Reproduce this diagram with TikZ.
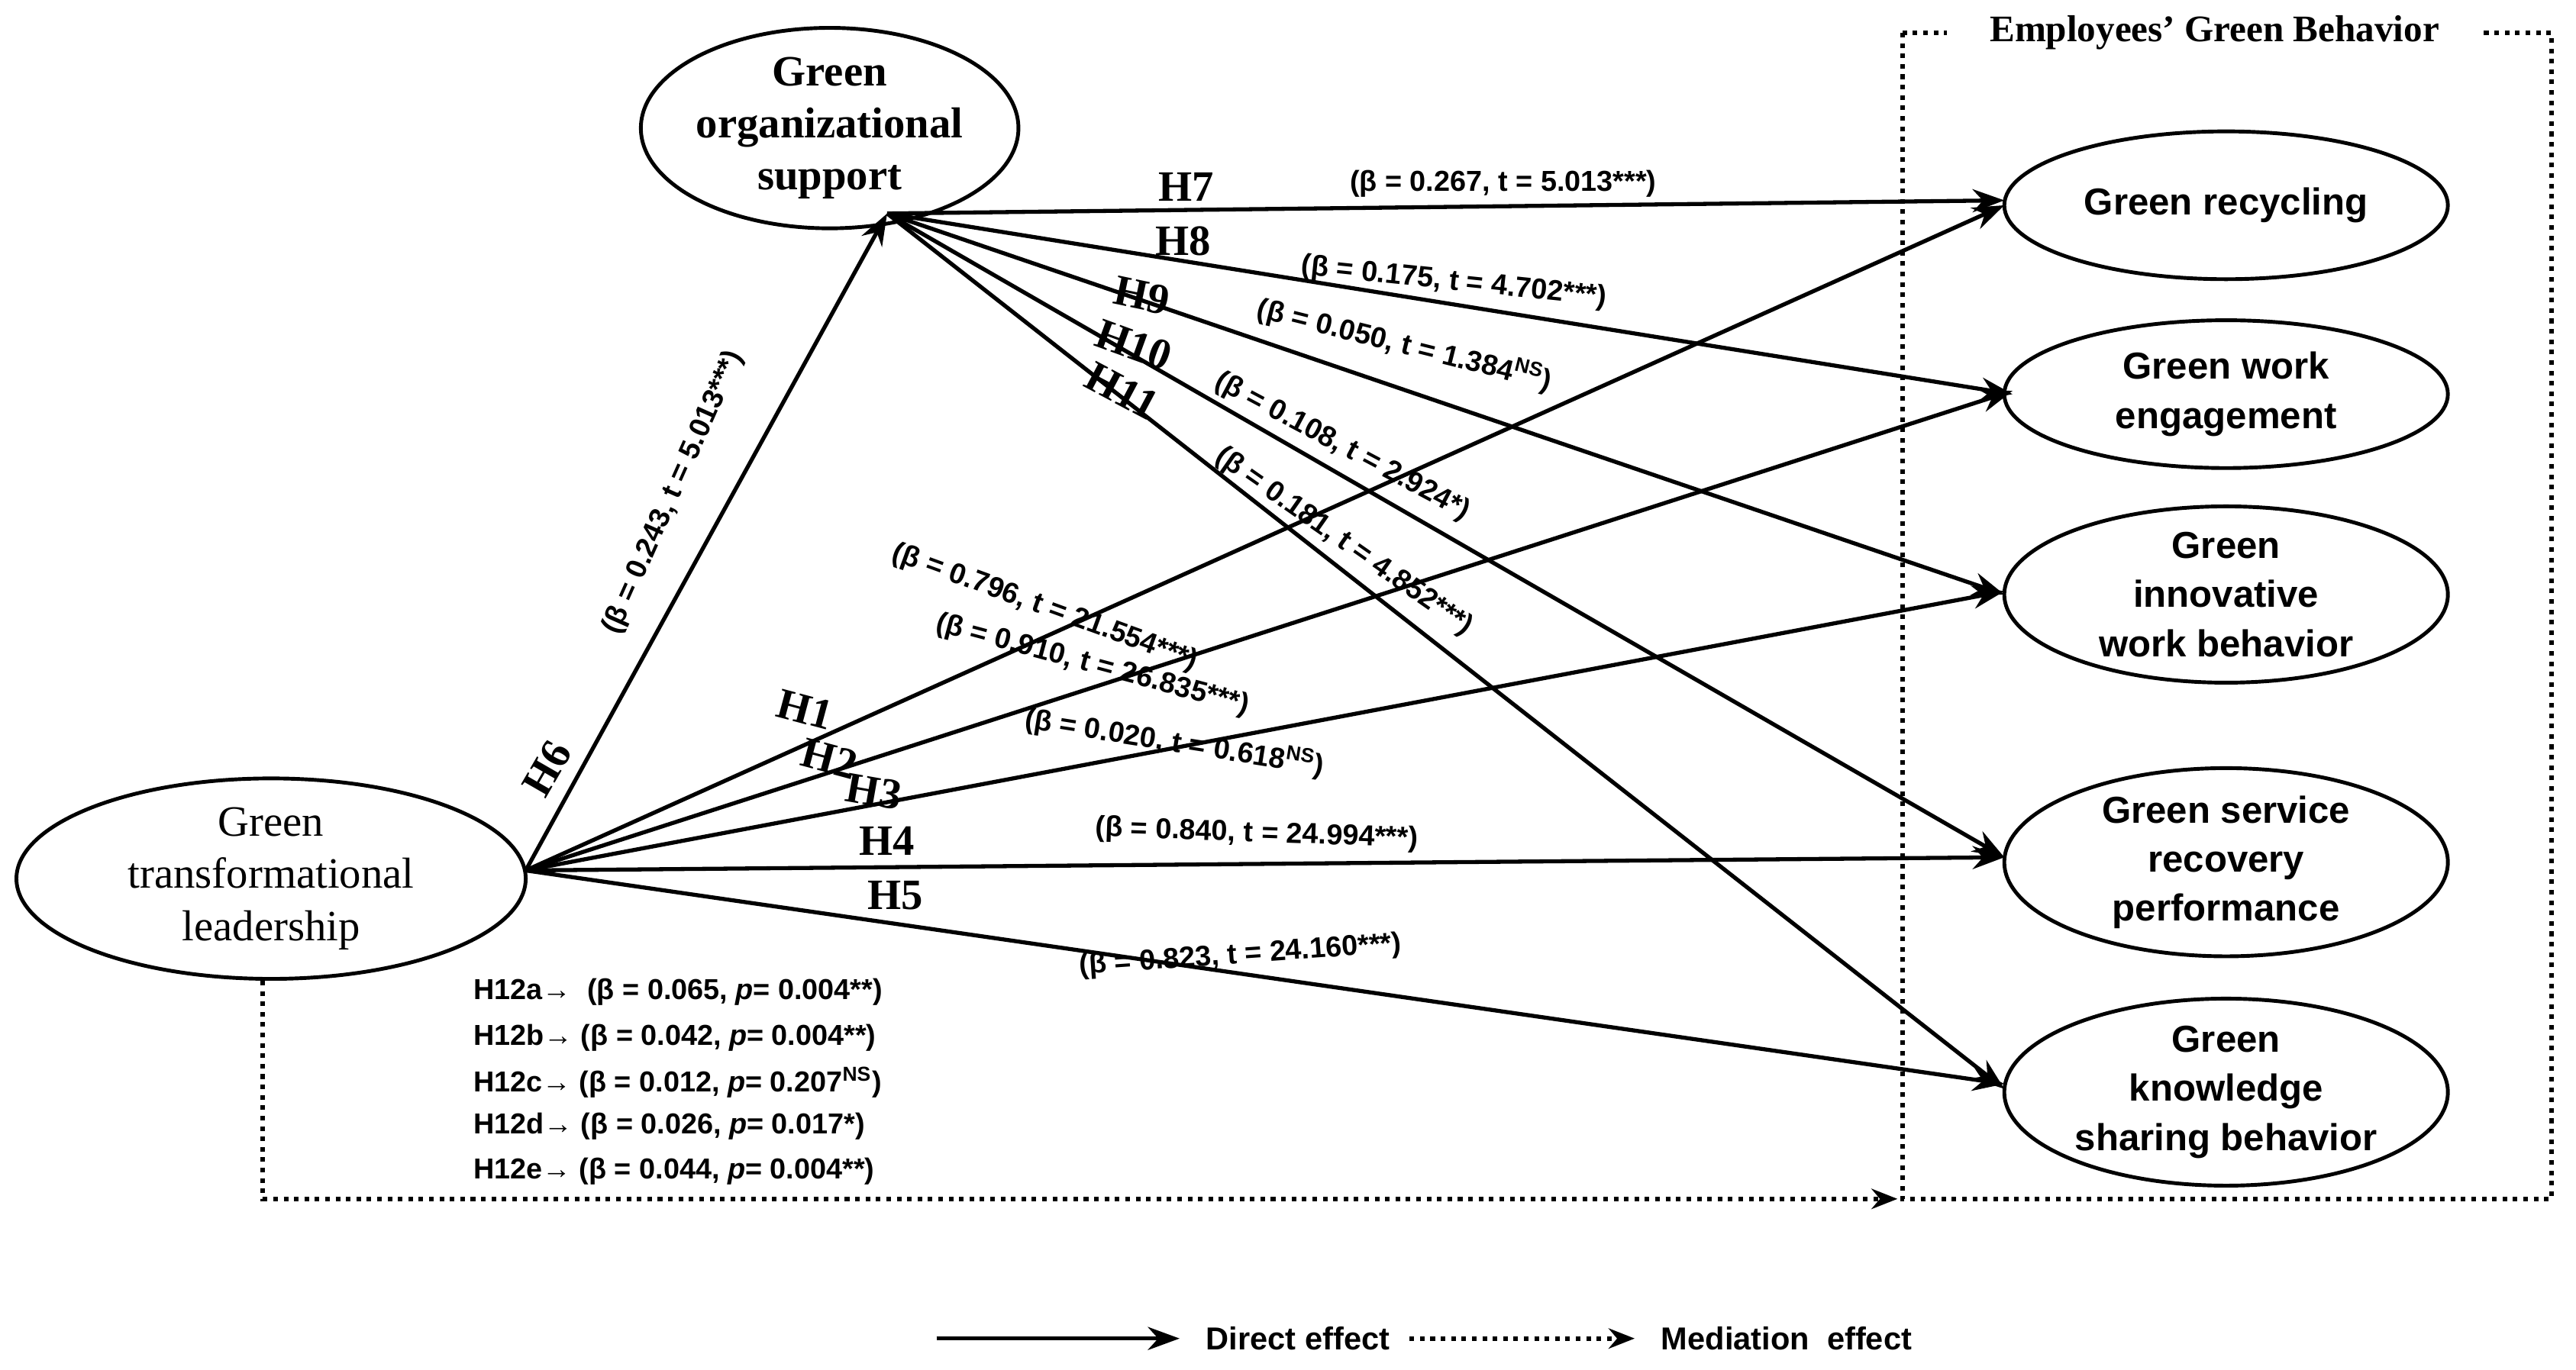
\documentclass[tikz,border=0pt]{standalone}
\usepackage{fontspec}
\setmainfont{Liberation Serif}
\newfontfamily\sa{Liberation Sans}
\usetikzlibrary{arrows.meta,shapes.geometric}
\begin{document}
\begin{tikzpicture}[x=0.02cm,y=-0.02cm,
 el/.style={draw,ellipse,line width=1.3pt,minimum width=270*0.02cm,minimum height=90*0.02cm,align=center,inner sep=0pt},
 rt/.style={el,font=\sa\bfseries\fontsize{13}{17}\selectfont},
 ar/.style={line width=1.4pt,-{Stealth[length=11pt,width=8pt]}},
 hl/.style={font=\bfseries\fontsize{15}{17}\selectfont},
 bl/.style={font=\sa\bfseries\fontsize{10}{12}\selectfont},
 dt/.style={line width=1.6pt,dotted}]
\useasboundingbox (0,0) rectangle (1568,834);
\node[el,minimum width=310*0.02cm,minimum height=110*0.02cm,font=\fontsize{15}{18}\selectfont] (gtl) at (165,535) {Green\\transformational\\leadership};
\node[el,minimum width=220*0.02cm,minimum height=120*0.02cm,font=\bfseries\fontsize{15}{18}\selectfont] (gos) at (505,78) {Green\\organizational\\support};
\node[rt] (r1) at (1355,125) {Green recycling};
\node[rt] (r2) at (1355,240) {Green work\\engagement};
\node[rt,minimum height=105*0.02cm] (r3) at (1355,362) {Green\\innovative\\work behavior};
\node[rt,minimum height=100*0.02cm] (r4) at (1355,525) {Green service\\recovery\\performance};
\node[rt,minimum height=100*0.02cm] (r5) at (1355,665) {Green\\knowledge\\sharing behavior};
\coordinate (s) at (320,530);
\coordinate (g) at (540,130);
\draw[ar] (s) -- (g);
\draw[ar] (s) -- (1220,125);
\draw[ar] (s) -- (1225,238);
\draw[ar] (s) -- (1220,360);
\draw[ar] (s) -- (1220,522);
\draw[ar] (s) -- (1220,660);
\draw[ar] (g) -- (1220,122);
\draw[ar] (g) -- (1225,240);
\draw[ar] (g) -- (1220,362);
\draw[ar] (g) -- (1220,522);
\draw[ar] (g) -- (1220,663);
% box
\draw[dt] (1158,20) -- (1158,730) -- (1553,730) -- (1553,20) -- (1510,20);
\draw[dt] (1158,20) -- (1185,20);
\node[font=\bfseries\fontsize{13}{15}\selectfont] (ttl) at (1348,20) {Employees' Green Behavior};
\coordinate (m1) at (160,730);
\coordinate (m2) at (1155,730);
\draw[dt,-{Stealth[length=9pt,width=7pt]}] (gtl.south -| m1) -- (m1) -- (m2);
% labels
\node[hl,rotate=60] (h6) at (333,468) {H6};
\node[bl,rotate=66] (l6) at (410,300) {(β = 0.243, t = 5.013***)};
\node[hl] (h7) at (722,114) {H7};
\node[bl] (l7) at (915,112) {(β = 0.267, t = 5.013***)};
\node[hl] (h8) at (720,147) {H8};
\node[bl,rotate=-6] (l8) at (885,172) {(β = 0.175, t = 4.702***)};
\node[hl,rotate=-12] (h9) at (695,180) {H9};
\node[bl,rotate=-14] (l9) at (855,210) {(β = 0.050, t = 1.384\textsuperscript{NS})};
\node[hl,rotate=-20] (h10) at (690,210) {H10};
\node[bl,rotate=-28] (l10) at (817,272) {(β = 0.108, t = 2.924*)};
\node[hl,rotate=-28] (h11) at (683,238) {H11};
\node[bl,rotate=-35] (l11) at (818,330) {(β = 0.181, t = 4.852***)};
\node[hl,rotate=-15] (h1) at (490,432) {H1};
\node[bl,rotate=-20] (l1) at (636,370) {(β = 0.796, t = 21.554***)};
\node[hl,rotate=-15] (h2) at (505,462) {H2};
\node[bl,rotate=-15] (l2) at (665,405) {(β = 0.910, t = 26.835***)};
\node[hl,rotate=-10] (h3) at (532,482) {H3};
\node[bl,rotate=-9] (l3) at (715,452) {(β = 0.020, t = 0.618\textsuperscript{NS})};
\node[hl] (h4) at (540,512) {H4};
\node[bl,rotate=-2] (l4) at (765,508) {(β = 0.840, t = 24.994***)};
\node[hl] (h5) at (545,545) {H5};
\node[bl,rotate=4] (l5) at (755,582) {(β = 0.823, t = 24.160***)};
\node[bl,anchor=west] (a) at (282,604) {H12a→ \ (β = 0.065, \textit{p}= 0.004**)};
\node[bl,anchor=west] (b) at (282,632) {H12b→ (β = 0.042, \textit{p}= 0.004**)};
\node[bl,anchor=west] (c) at (282,659) {H12c→ (β = 0.012, \textit{p}= 0.207\textsuperscript{NS})};
\node[bl,anchor=west] (d) at (282,686) {H12d→ (β = 0.026, \textit{p}= 0.017*)};
\node[bl,anchor=west] (e) at (282,713) {H12e→ (β = 0.044, \textit{p}= 0.004**)};
% legend
\coordinate (d1) at (570,815); \coordinate (d2) at (718,815);
\draw[ar] (d1) -- (d2);
\node[bl,anchor=west,font=\sa\bfseries\fontsize{11}{13}\selectfont] (dl) at (728,815) {Direct effect};
\coordinate (e1) at (858,815); \coordinate (e2) at (995,815);
\draw[dt,-{Stealth[length=9pt,width=7pt]}] (e1) -- (e2);
\node[bl,anchor=west,font=\sa\bfseries\fontsize{11}{13}\selectfont] (ml) at (1005,815) {Mediation\ \ effect};
\end{tikzpicture}
\end{document}
